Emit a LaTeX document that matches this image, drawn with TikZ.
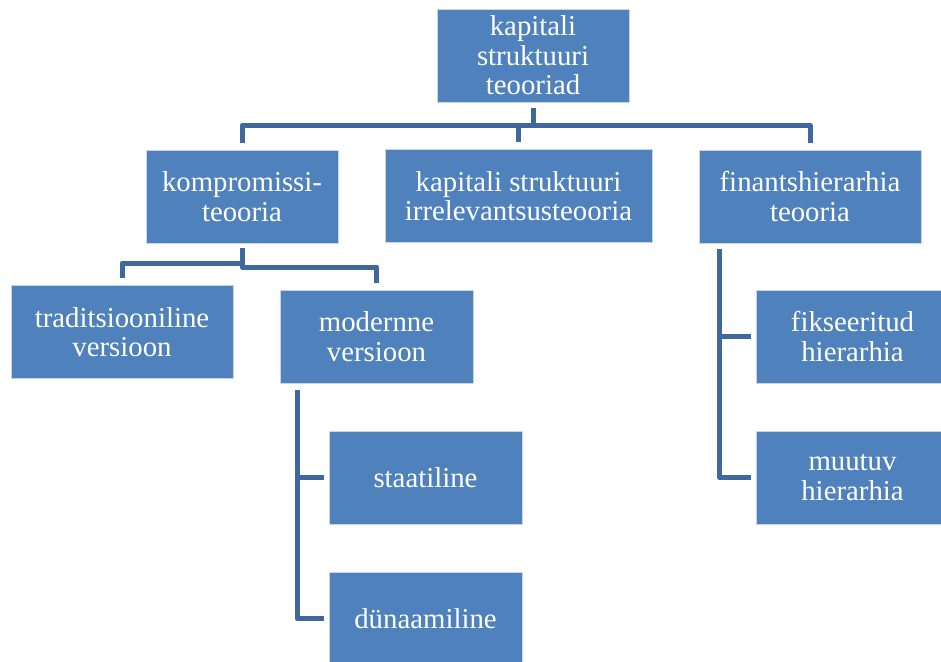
\documentclass[tikz,border=0pt]{standalone}
\usepackage{fontspec}
\setmainfont{Liberation Serif}
\definecolor{boxblue}{RGB}{79,129,189}
\definecolor{boxedge}{RGB}{198,214,234}
\definecolor{linkblue}{RGB}{62,104,158}
\tikzset{
  hbox/.style={fill=boxblue, draw=boxedge, line width=0.8pt, text=white,
    font=\fontsize{28.8}{29.5}\selectfont, align=center, inner sep=0pt,
    minimum width=#1, minimum height=93pt},
  conn/.style={draw=linkblue, line width=5pt, line join=round, line cap=butt}
}
\begin{document}
\begin{tikzpicture}[x=1pt,y=-1pt]
\clip (0,0) rectangle (941,661);
\fill[white] (0,0) rectangle (941,661);
% nodes
\node[hbox=192pt] (top) at (533,55.5) {kapitali\\struktuuri\\teooriad};
\node[hbox=192pt] (komp) at (242,196.5) {kompromissi-\\teooria};
\node[hbox=267pt] (irr) at (518.5,196) {kapitali struktuuri\\irrelevantsusteooria};
\node[hbox=222pt] (fin) at (810,196.5) {finantshierarhia\\teooria};
\node[hbox=222pt] (trad) at (122,332) {traditsiooniline\\versioon};
\node[hbox=193pt] (mod) at (376.5,336.5) {modernne\\versioon};
\node[hbox=193pt] (stat) at (425.5,477.5) {staatiline};
\node[hbox=193pt] (dyn) at (425.5,618.5) {dünaamiline};
\node[hbox=193pt] (fix) at (852.5,336.5) {fikseeritud\\hierarhia};
\node[hbox=193pt] (muu) at (852.5,477.5) {muutuv\\hierarhia};
% helper coordinates
\coordinate (m1) at (0,125.5);
\coordinate (m2) at (0,263);
\coordinate (m3) at (0,267);
\coordinate (v1) at (297,0);
\coordinate (v2) at (719.5,0);
\coordinate (ms) at ([yshift=-7pt]mod.south);
\coordinate (fs) at ([yshift=-6pt]fin.south);
% connectors level 1
\draw[conn] ([yshift=-6pt]top.south) -- (top.south |- m1) -- (komp.north |- m1) -- ([yshift=7pt]komp.north);
\draw[conn] ([yshift=-6pt]top.south) -- (top.south |- m1) -- (irr.north |- m1) -- ([yshift=7pt]irr.north);
\draw[conn] ([yshift=-6pt]top.south) -- (top.south |- m1) -- (fin.north |- m1) -- ([yshift=7pt]fin.north);
% kompromissi
\draw[conn] ([yshift=-5pt]komp.south) -- (komp.south |- m2) -- (trad.north |- m2) -- ([yshift=7pt]trad.north);
\draw[conn] ([yshift=-5pt]komp.south) -- (komp.south |- m3) -- (mod.north |- m3) -- ([yshift=7pt]mod.north);
% modernne
\draw[conn] (v1 |- ms) -- (v1 |- stat.west) -- ([xshift=-5pt]stat.west);
\draw[conn] (v1 |- ms) -- (v1 |- dyn.west) -- ([xshift=-5pt]dyn.west);
% finants
\draw[conn] (v2 |- fs) -- (v2 |- fix.west) -- ([xshift=-5pt]fix.west);
\draw[conn] (v2 |- fs) -- (v2 |- muu.west) -- ([xshift=-5pt]muu.west);
\end{tikzpicture}
\end{document}
